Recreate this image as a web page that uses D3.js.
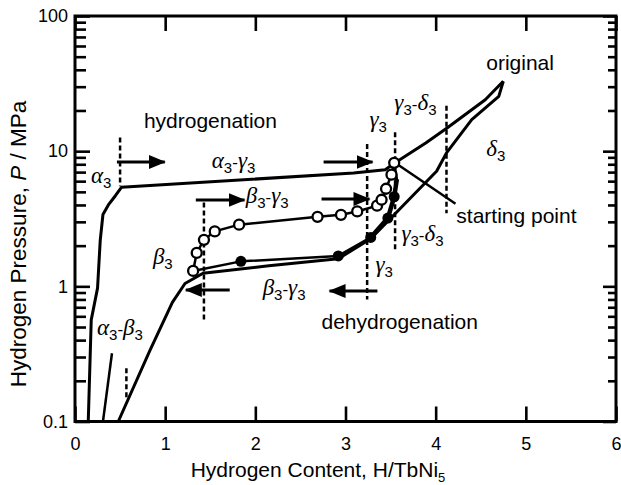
<!DOCTYPE html>
<html>
<head>
<meta charset="utf-8">
<script src="https://cdn.jsdelivr.net/npm/d3@7"></script>
<style>
  body { margin: 0; background: #fff; }
  text { font-family: "Liberation Sans", Arial, Helvetica, sans-serif; fill: #000; }
  .greek { font-family: "Liberation Serif", "Times New Roman", serif; font-style: italic; }
</style>
</head>
<body>
<script>
// axis ticks
var xTicks = [0, 1, 2, 3, 4, 5, 6];
var yTicks = [0.1, 1, 10, 100];
var yMinor = [0.2,0.3,0.4,0.5,0.6,0.7,0.8,0.9, 2,3,4,5,6,7,8,9, 20,30,40,50,60,70,80,90];

// first (original) hydrogenation, H/TbNi5 vs P (MPa)
var origAbs = [[0.147,0.1],[0.18,0.565],[0.25,0.97],[0.28,2.2],[0.31,3.4],[0.37,4.0],[0.45,4.7],[0.515,5.4],
  [3.09,6.9],[3.44,7.3],[3.55,8.2],[3.89,11.5],[4.13,14.9],[4.55,24],[4.75,32.9]];
// original dehydrogenation
var origDes = [[4.75,32.9],[4.70,25.4],[4.40,17.1],[4.12,9.7],[4.01,7.1],[3.28,2.25],[2.92,1.60],
  [2.15,1.42],[1.42,1.25],[1.22,1.05],[1.08,0.76],[0.83,0.335],[0.48,0.1]];
// short alpha-beta branch
var alphaBeta = [[0.31,0.1],[0.41,0.32]];
// cycled sample, hydrogenation (open circles)
var openPts = [[1.31,1.30],[1.35,1.77],[1.43,2.21],[1.55,2.55],[1.82,2.86],[2.69,3.27],[2.95,3.38],
  [3.13,3.58],[3.35,3.95],[3.40,4.37],[3.45,5.27],[3.51,6.7],[3.54,8.2]];
// cycled sample, dehydrogenation (filled circles)
var filledLine = [[3.54,8.2],[3.57,6.2],[3.54,4.6],[3.47,3.2],[3.28,2.3],[2.92,1.68],[1.84,1.53],[1.31,1.30]];
var filledPts = [[3.54,4.6],[3.47,3.2],[3.28,2.3],[2.92,1.68],[1.84,1.53]];
// pointer to the starting point
var pointer = [[3.55,8.2],[4.22,4.08]];

// dashed phase boundaries: x, P top, P bottom
var dashes = [[0.50,12.6,5.5],[1.43,4.17,0.565],[0.57,0.248,0.149],[3.24,11.3,0.8],[3.55,13.8,1.81],[4.12,21.7,3.48]];
// arrows: x from, x to, P
var arrows = [[0.465,0.996,8.32],[1.34,1.88,4.35],[2.757,3.30,8.32],[2.734,3.266,4.43],[1.716,1.229,0.939],[3.354,2.823,0.923]];

// plain labels: text, x, P
var plainLabels = [["hydrogenation",0.764,14.8],["dehydrogenation",2.734,0.483],["original",4.561,39.8],["starting point",4.229,2.94]];
// phase labels: [greek, greek2], x, P
var phaseLabels = [[["α"],0.177,5.81],[["α","γ"],1.517,7.51],[["β","γ"],1.893,4.14],[["γ"],3.266,15.1],
  [["γ","δ"],3.542,20.2],[["δ"],4.561,9.21],[["γ","δ"],3.62,2.16],[["β"],0.864,1.46],[["β","γ"],2.081,0.863],
  [["γ"],3.332,1.276],[["α","β"],0.2435,0.436]];

var width = 621, height = 485;
var svg = d3.select("body").append("svg").attr("width", width).attr("height", height);

var x = d3.scaleLinear().domain([0, 6]).range([75, 616]);
var y = d3.scaleLog().domain([0.1, 100]).range([421.5, 16]);

// axes
function tickAxis(axis, vals, size, fmt) {
  return axis.tickValues(vals).tickSize(size).tickSizeOuter(0).tickFormat(fmt);
}
var none = function(){ return ""; };
var gB = svg.append("g").attr("transform","translate(0,421.5)")
  .call(tickAxis(d3.axisBottom(x), xTicks, -15, d3.format("d")).tickPadding(16));
var gT = svg.append("g").attr("transform","translate(0,16)")
  .call(tickAxis(d3.axisTop(x), xTicks, -15, none));
var gL = svg.append("g").attr("transform","translate(75,0)")
  .call(tickAxis(d3.axisLeft(y), yTicks, -15, function(d){ return d < 1 ? "0.1" : d3.format("d")(d); }).tickPadding(7));
var gLm = svg.append("g").attr("transform","translate(75,0)")
  .call(tickAxis(d3.axisLeft(y), yMinor, -11, none));
var gR = svg.append("g").attr("transform","translate(616,0)")
  .call(tickAxis(d3.axisRight(y), yTicks, -13, none));
var gRm = svg.append("g").attr("transform","translate(616,0)")
  .call(tickAxis(d3.axisRight(y), yMinor, -8, none));
[gB,gT,gL,gLm,gR,gRm].forEach(function(g){
  g.select(".domain").remove();
  g.selectAll("line").attr("stroke","#000").attr("stroke-width",2.6);
  g.selectAll("text").style("font-size","18px").attr("fill","#000");
});

svg.append("rect").attr("x",75).attr("y",16).attr("width",541).attr("height",405.5)
  .attr("fill","none").attr("stroke","#000").attr("stroke-width",3);

// axis titles
var xt = svg.append("text").attr("x",318).attr("y",477).attr("text-anchor","middle").style("font-size","21px");
xt.append("tspan").text("Hydrogen Content, H/TbNi");
xt.append("tspan").attr("dy",5).style("font-size","13px").text("5");

var yt = svg.append("text").attr("transform","translate(26,244) rotate(-90)").attr("text-anchor","middle").style("font-size","22.5px");
yt.append("tspan").text("Hydrogen Pressure, ");
yt.append("tspan").style("font-style","italic").text("P");
yt.append("tspan").text(" / MPa");

// curves
var line = d3.line().x(function(d){ return x(d[0]); }).y(function(d){ return y(d[1]); });
var plot = svg.append("g");

plot.append("path").datum(origAbs).attr("d", line).attr("fill","none").attr("stroke","#000").attr("stroke-width",3).attr("stroke-linejoin","round");
plot.append("path").datum(origDes).attr("d", line).attr("fill","none").attr("stroke","#000").attr("stroke-width",3).attr("stroke-linejoin","round");
plot.append("path").datum(alphaBeta).attr("d", line).attr("fill","none").attr("stroke","#000").attr("stroke-width",2.5);
plot.append("path").datum(pointer).attr("d", line).attr("fill","none").attr("stroke","#000").attr("stroke-width",2.5);
plot.append("path").datum(filledLine).attr("d", line).attr("fill","none").attr("stroke","#000").attr("stroke-width",2.5).attr("stroke-linejoin","round");
plot.append("path").datum(filledLine.slice(1,5)).attr("d", line).attr("fill","none").attr("stroke","#000").attr("stroke-width",4.5).attr("stroke-linejoin","round");
plot.append("path").datum(openPts).attr("d", line).attr("fill","none").attr("stroke","#000").attr("stroke-width",2.5);

// dashed boundaries
plot.selectAll(".dash").data(dashes).enter().append("line")
  .attr("x1", function(d){ return x(d[0]); }).attr("x2", function(d){ return x(d[0]); })
  .attr("y1", function(d){ return y(d[1]); }).attr("y2", function(d){ return y(d[2]); })
  .attr("stroke","#000").attr("stroke-width",2.5).attr("stroke-dasharray","5,3");

// markers
plot.selectAll(".fp").data(filledPts).enter().append("circle")
  .attr("cx", function(d){ return x(d[0]); }).attr("cy", function(d){ return y(d[1]); })
  .attr("r", 5.5).attr("fill","#000");
plot.selectAll(".op").data(openPts).enter().append("circle")
  .attr("cx", function(d){ return x(d[0]); }).attr("cy", function(d){ return y(d[1]); })
  .attr("r", 5).attr("fill","#fff").attr("stroke","#000").attr("stroke-width",2.3);

// arrows
svg.append("defs").append("marker").attr("id","head").attr("markerUnits","userSpaceOnUse")
  .attr("markerWidth",18).attr("markerHeight",14).attr("refX",16).attr("refY",7).attr("orient","auto")
  .append("path").attr("d","M0,0 L17,7 L0,14 Z").attr("fill","#000");
plot.selectAll(".arr").data(arrows).enter().append("line")
  .attr("x1", function(d){ return x(d[0]); }).attr("x2", function(d){ return x(d[1]); })
  .attr("y1", function(d){ return y(d[2]); }).attr("y2", function(d){ return y(d[2]); })
  .attr("stroke","#000").attr("stroke-width",3).attr("marker-end","url(#head)");

// labels
plot.selectAll(".pl").data(plainLabels).enter().append("text")
  .attr("x", function(d){ return x(d[1]); }).attr("y", function(d){ return y(d[2]); })
  .style("font-size","21px").text(function(d){ return d[0]; });

phaseLabels.forEach(function(d){
  var t = plot.append("text").attr("x", x(d[1])).attr("y", y(d[2]));
  d[0].forEach(function(g, i){
    if (i > 0) t.append("tspan").attr("dy",-5).style("font-size","17px").text("-");
    t.append("tspan").attr("class","greek").attr("dy", i > 0 ? 0 : null).style("font-size","23px").text(g);
    t.append("tspan").attr("dy",5).style("font-size","15px").text("3");
  });
});
</script>
</body>
</html>
